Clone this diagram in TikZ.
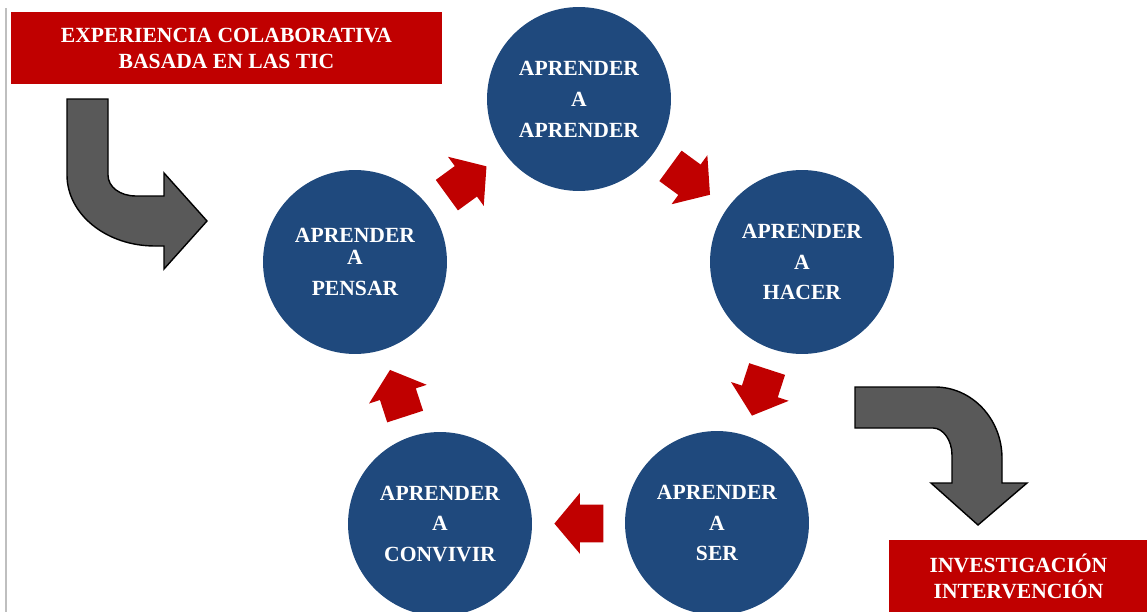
\documentclass[tikz,border=0pt]{standalone}
\usepackage{fontspec}
\setmainfont{Liberation Serif}
\usetikzlibrary{arrows,calc,shapes.arrows}
\definecolor{circblue}{RGB}{31,73,125}
\definecolor{boxred}{RGB}{192,0,0}
\definecolor{bendgray}{RGB}{89,89,89}

\begin{document}
\begin{tikzpicture}[x=0.02cm, y=-0.02cm,
    ring/.style={circle, fill=circblue, minimum size=3.68cm, inner sep=0pt,
        text=white, align=center, font=\bfseries\fontsize{12.3}{17.6}\selectfont},
    redbox/.style={fill=boxred, text=white, align=center, inner sep=0pt,
        minimum height=1.44cm, font=\bfseries\fontsize{12.3}{14.8}\selectfont},
    blockarrow/.style={single arrow, fill=boxred, inner sep=0pt,
        minimum height=0.98cm, minimum width=1.2cm,
        single arrow head extend=0.23cm, single arrow tip angle=100,
        pos=0.41, sloped, allow upside down},
    bent/.style={fill=bendgray, draw=black, line width=0.8pt, line join=miter}
    ]
    \useasboundingbox (0,0) rectangle (1147,612);
    \clip (0,0) rectangle (1147,612);
    \draw[black!25, line width=0.6pt] (6,8) -- (6,612);
    %% Boxes
    \node[redbox, minimum width=8.62cm] (tic) at (226.5,48)
        {EXPERIENCIA COLABORATIVA\\BASADA EN LAS TIC};
    \node[redbox, minimum width=5.18cm] (inv) at (1018.5,576)
        {INVESTIGACIÓN\\INTERVENCIÓN};
    %% Circles
    \node[ring] (aprender) at (579,99) {APRENDER\\A\\APRENDER};
    \node[ring] (hacer) at (802,262) {APRENDER\\A\\HACER};
    \node[ring] (ser) at (717,523) {APRENDER\\A\\SER};
    \node[ring] (convivir) at (440,524) {APRENDER\\A\\CONVIVIR};
    \node[ring] (pensar) at (355,262) {APRENDER\\[-5pt]A\\PENSAR};
    %% Red arrows
    \path
    (pensar) -- (aprender) node[blockarrow] (a1) {\rule{0pt}{0.74cm}}
    (aprender) -- (hacer) node[blockarrow] (a2) {\rule{0pt}{0.74cm}}
    (hacer) -- (ser) node[blockarrow] (a3) {\rule{0pt}{0.74cm}}
    (ser) -- (convivir) node[blockarrow] (a4) {\rule{0pt}{0.74cm}}
    (convivir) -- (pensar) node[blockarrow] (a5) {\rule{0pt}{0.74cm}}
    ;
    %% Bent arrows
    \draw[bent] (67,99) -- (108,99) -- (108,175)
        .. controls (108,187) and (120,196) .. (136,196)
        -- (164,196) -- (164,173) -- (207,221) -- (164,269) -- (164,246) -- (155,246)
        .. controls (106,246) and (67,214) .. (67,175) -- cycle;
    \draw[bent] (855,387) -- (935,387)
        .. controls (972,387) and (1002,419) .. (1002,458)
        -- (1002,483) -- (1027,483) -- (978,525) -- (931,483) -- (952,483) -- (952,455)
        .. controls (952,440) and (943,428) .. (933,428) -- (855,428) -- cycle;
\end{tikzpicture}
\end{document}
